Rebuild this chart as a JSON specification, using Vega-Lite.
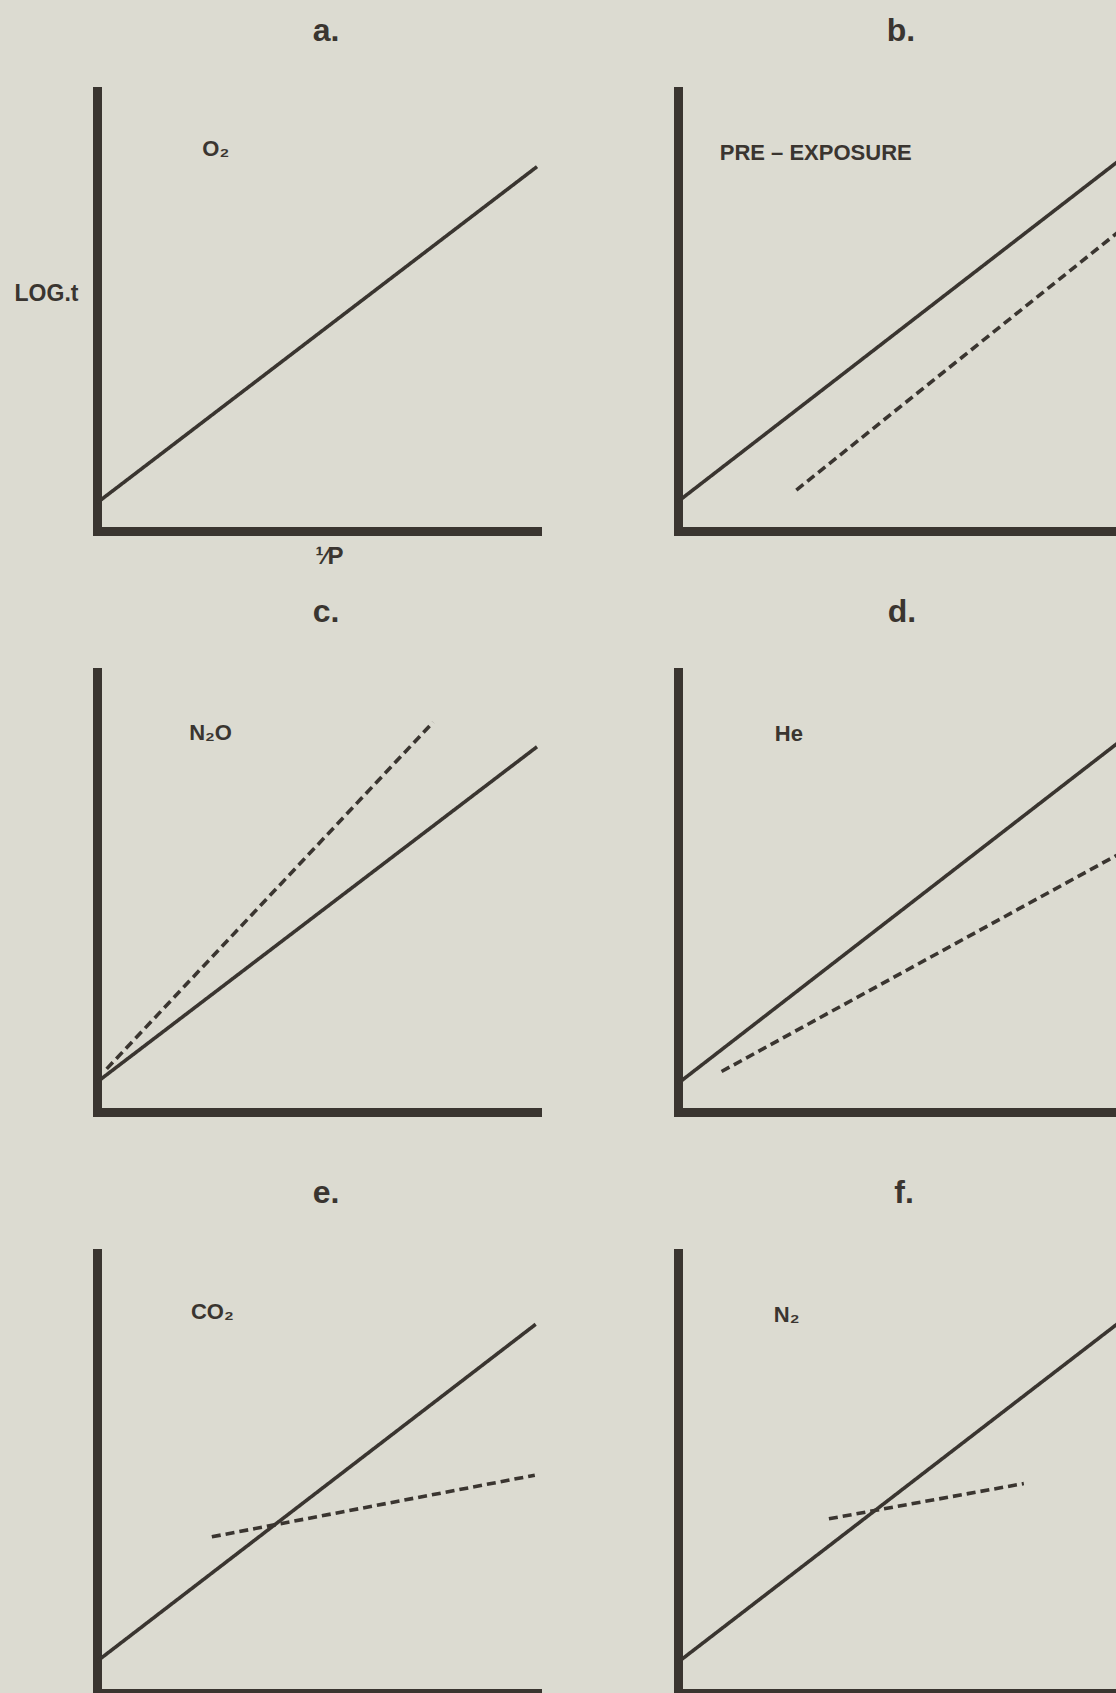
{
  "$schema": "https://vega.github.io/schema/vega-lite/v6.json",
  "background": "#dcdbd1",
  "padding": {"left": 14, "top": 15, "right": 0, "bottom": 0},
  "columns": 2,
  "spacing": 141,
  "bounds": "flush",
  "datasets": {
    "lines": [
      {"panel": "a", "series": "solid", "x": 0, "y": 6.4},
      {"panel": "a", "series": "solid", "x": 100, "y": 82.8},
      {"panel": "b", "series": "solid", "x": 0, "y": 6.7},
      {"panel": "b", "series": "solid", "x": 100, "y": 84.0},
      {"panel": "b", "series": "dashed", "x": 26.9, "y": 9.3},
      {"panel": "b", "series": "dashed", "x": 100, "y": 67.9},
      {"panel": "c", "series": "solid", "x": 0, "y": 6.8},
      {"panel": "c", "series": "solid", "x": 100, "y": 83.0},
      {"panel": "c", "series": "dashed", "x": 2.2, "y": 9.8},
      {"panel": "c", "series": "dashed", "x": 76.4, "y": 88.6},
      {"panel": "d", "series": "solid", "x": 0, "y": 6.5},
      {"panel": "d", "series": "solid", "x": 100, "y": 83.9},
      {"panel": "d", "series": "dashed", "x": 9.9, "y": 9.2},
      {"panel": "d", "series": "dashed", "x": 100, "y": 58.5},
      {"panel": "e", "series": "solid", "x": 0, "y": 7.2},
      {"panel": "e", "series": "solid", "x": 99.7, "y": 83.8},
      {"panel": "e", "series": "dashed", "x": 26.1, "y": 35.5},
      {"panel": "e", "series": "dashed", "x": 99.5, "y": 49.5},
      {"panel": "f", "series": "solid", "x": 0, "y": 7.0},
      {"panel": "f", "series": "solid", "x": 100, "y": 84.0},
      {"panel": "f", "series": "dashed", "x": 34.3, "y": 39.6},
      {"panel": "f", "series": "dashed", "x": 78.6, "y": 47.6}
    ],
    "labels": [
      {"panel": "a", "label": "O₂", "x": 27.0, "y": 86.9},
      {"panel": "b", "label": "PRE – EXPOSURE", "x": 31.3, "y": 86.0},
      {"panel": "c", "label": "N₂O", "x": 25.8, "y": 86.2},
      {"panel": "d", "label": "He", "x": 25.2, "y": 86.0},
      {"panel": "e", "label": "CO₂", "x": 26.2, "y": 86.5},
      {"panel": "f", "label": "N₂", "x": 24.7, "y": 86.0}
    ]
  },
  "config": {
    "font": "Liberation Sans",
    "view": {"stroke": null},
    "axis": {
      "domainWidth": 9,
      "domainColor": "#3a3530",
      "domainCap": "square",
      "ticks": false,
      "labels": false,
      "grid": false,
      "titleColor": "#3a3530",
      "titleFont": "Liberation Sans",
      "titleFontWeight": "bold"
    },
    "title": {
      "fontSize": 32,
      "fontWeight": "bold",
      "color": "#3a3530",
      "font": "Liberation Sans",
      "anchor": "middle",
      "offset": 43,
      "dx": 9
    },
    "line": {"color": "#3a3530", "strokeWidth": 3.6, "strokeCap": "butt"},
    "text": {"color": "#3a3530", "fontSize": 22, "fontWeight": "bold", "font": "Liberation Sans", "baseline": "middle", "align": "center"}
  },
  "concat": [
    {
      "title": "a.",
      "width": 440, "height": 440,
      "encoding": {
        "x": {"field": "x", "type": "quantitative", "scale": {"domain": [0, 100]},
              "axis": {"title": "¹⁄P", "titleX": 232, "titleY": 25, "titleBaseline": "middle", "titleAlign": "center", "titleFontSize": 24}},
        "y": {"field": "y", "type": "quantitative", "scale": {"domain": [0, 100]},
              "axis": {"title": "LOG.t", "titleAngle": 0, "titleX": -51, "titleY": 202, "titleAlign": "center", "titleBaseline": "middle", "titleFontSize": 23}}
      },
      "layer": [
        {"data": {"name": "lines"}, "transform": [{"filter": "datum.panel === 'a'"}],
         "mark": "line",
         "encoding": {"strokeDash": {"field": "series", "type": "nominal", "scale": {"domain": ["solid", "dashed"], "range": [[1, 0], [9, 5]]}, "legend": null}}},
        {"data": {"name": "labels"}, "transform": [{"filter": "datum.panel === 'a'"}],
         "mark": "text", "encoding": {"text": {"field": "label"}}}
      ]
    },
    {
      "title": {"text": "b.", "dx": 3},
      "width": 440, "height": 440,
      "encoding": {
        "x": {"field": "x", "type": "quantitative", "scale": {"domain": [0, 100]}, "axis": {"title": null}},
        "y": {"field": "y", "type": "quantitative", "scale": {"domain": [0, 100]}, "axis": {"title": null}}
      },
      "layer": [
        {"data": {"name": "lines"}, "transform": [{"filter": "datum.panel === 'b'"}],
         "mark": "line",
         "encoding": {"strokeDash": {"field": "series", "type": "nominal", "scale": {"domain": ["solid", "dashed"], "range": [[1, 0], [9, 5]]}, "legend": null}}},
        {"data": {"name": "labels"}, "transform": [{"filter": "datum.panel === 'b'"}],
         "mark": "text", "encoding": {"text": {"field": "label"}}}
      ]
    },
    {
      "title": "c.",
      "width": 440, "height": 440,
      "encoding": {
        "x": {"field": "x", "type": "quantitative", "scale": {"domain": [0, 100]}, "axis": {"title": null}},
        "y": {"field": "y", "type": "quantitative", "scale": {"domain": [0, 100]}, "axis": {"title": null}}
      },
      "layer": [
        {"data": {"name": "lines"}, "transform": [{"filter": "datum.panel === 'c'"}],
         "mark": "line",
         "encoding": {"strokeDash": {"field": "series", "type": "nominal", "scale": {"domain": ["solid", "dashed"], "range": [[1, 0], [9, 5]]}, "legend": null}}},
        {"data": {"name": "labels"}, "transform": [{"filter": "datum.panel === 'c'"}],
         "mark": "text", "encoding": {"text": {"field": "label"}}}
      ]
    },
    {
      "title": {"text": "d.", "dx": 4},
      "width": 440, "height": 440,
      "encoding": {
        "x": {"field": "x", "type": "quantitative", "scale": {"domain": [0, 100]}, "axis": {"title": null}},
        "y": {"field": "y", "type": "quantitative", "scale": {"domain": [0, 100]}, "axis": {"title": null}}
      },
      "layer": [
        {"data": {"name": "lines"}, "transform": [{"filter": "datum.panel === 'd'"}],
         "mark": "line",
         "encoding": {"strokeDash": {"field": "series", "type": "nominal", "scale": {"domain": ["solid", "dashed"], "range": [[1, 0], [9, 5]]}, "legend": null}}},
        {"data": {"name": "labels"}, "transform": [{"filter": "datum.panel === 'd'"}],
         "mark": "text", "encoding": {"text": {"field": "label"}}}
      ]
    },
    {
      "title": "e.",
      "width": 440, "height": 440,
      "encoding": {
        "x": {"field": "x", "type": "quantitative", "scale": {"domain": [0, 100]}, "axis": {"title": null}},
        "y": {"field": "y", "type": "quantitative", "scale": {"domain": [0, 100]}, "axis": {"title": null}}
      },
      "layer": [
        {"data": {"name": "lines"}, "transform": [{"filter": "datum.panel === 'e'"}],
         "mark": "line",
         "encoding": {"strokeDash": {"field": "series", "type": "nominal", "scale": {"domain": ["solid", "dashed"], "range": [[1, 0], [9, 5]]}, "legend": null}}},
        {"data": {"name": "labels"}, "transform": [{"filter": "datum.panel === 'e'"}],
         "mark": "text", "encoding": {"text": {"field": "label"}}}
      ]
    },
    {
      "title": {"text": "f.", "dx": 6},
      "width": 440, "height": 440,
      "encoding": {
        "x": {"field": "x", "type": "quantitative", "scale": {"domain": [0, 100]}, "axis": {"title": null}},
        "y": {"field": "y", "type": "quantitative", "scale": {"domain": [0, 100]}, "axis": {"title": null}}
      },
      "layer": [
        {"data": {"name": "lines"}, "transform": [{"filter": "datum.panel === 'f'"}],
         "mark": "line",
         "encoding": {"strokeDash": {"field": "series", "type": "nominal", "scale": {"domain": ["solid", "dashed"], "range": [[1, 0], [9, 5]]}, "legend": null}}},
        {"data": {"name": "labels"}, "transform": [{"filter": "datum.panel === 'f'"}],
         "mark": "text", "encoding": {"text": {"field": "label"}}}
      ]
    }
  ]
}
